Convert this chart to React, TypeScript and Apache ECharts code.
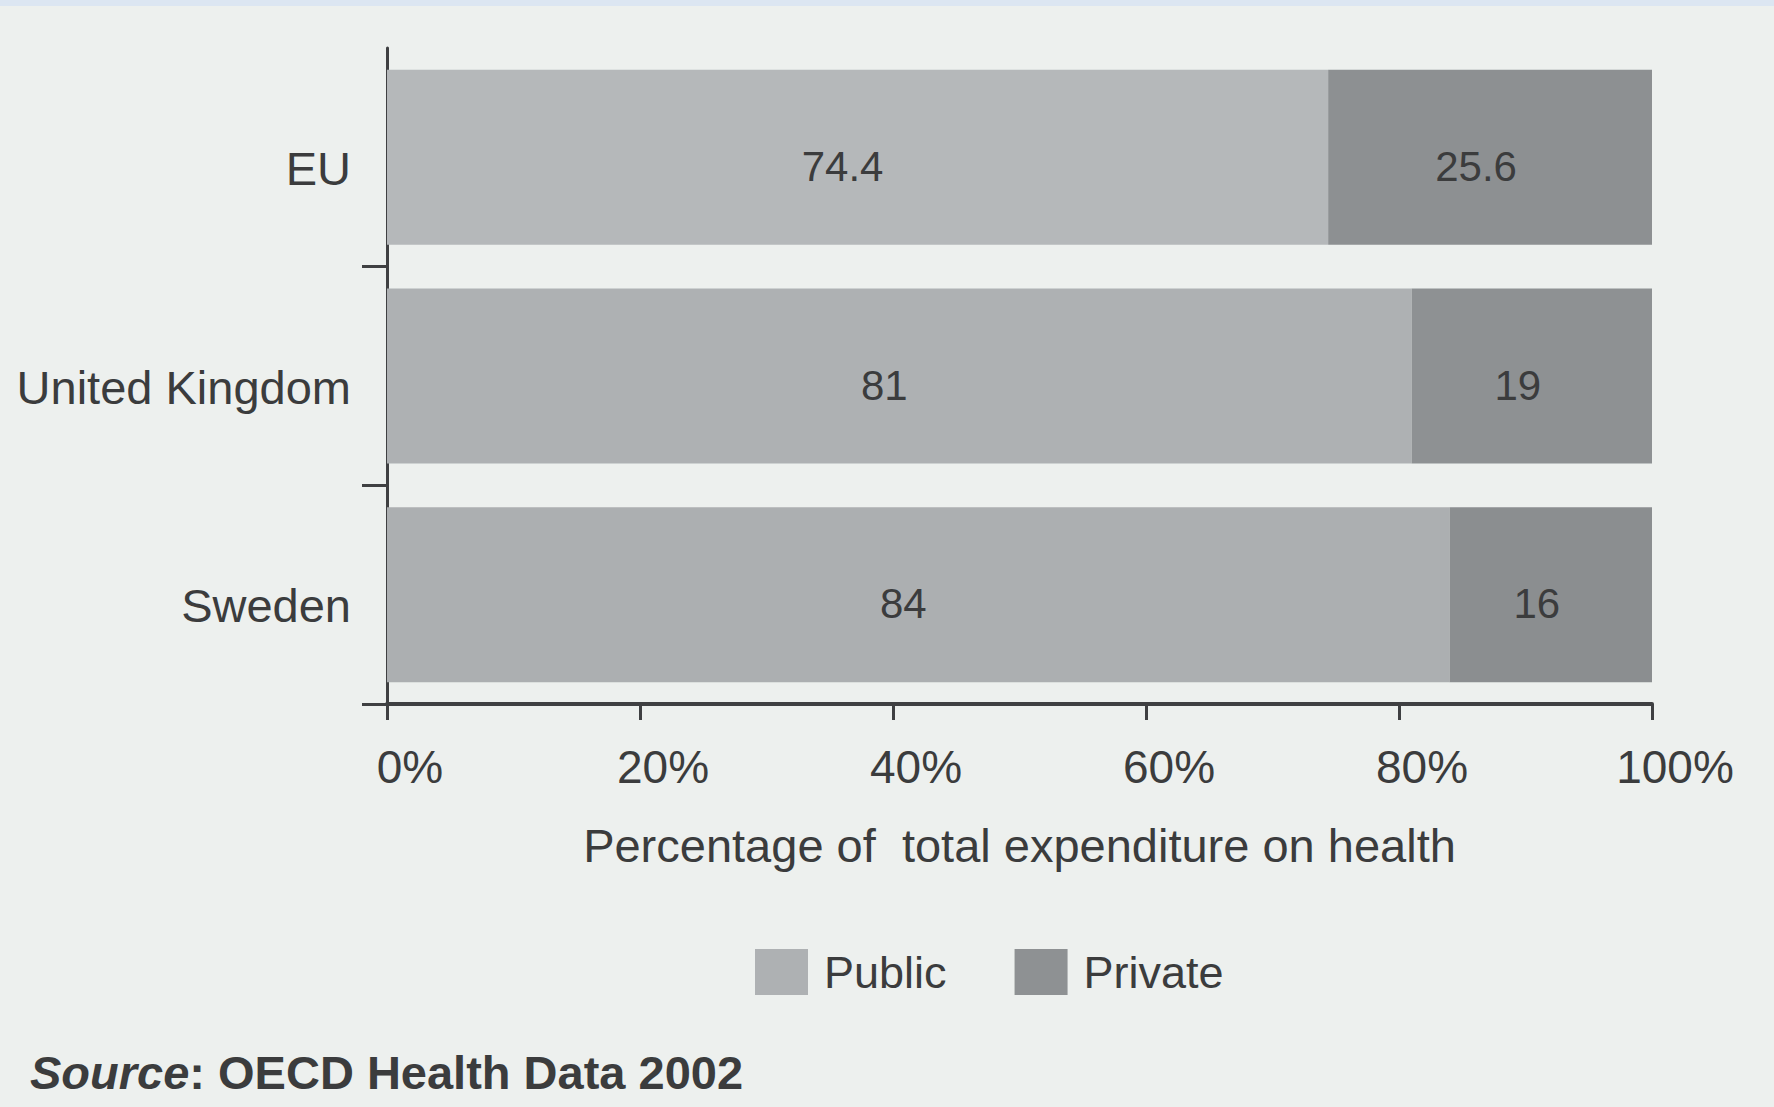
import React, { useEffect, useRef } from "react";
import * as echarts from "echarts";

const categories = ["EU", "United Kingdom", "Sweden"];
const publicValues = [74.4, 81, 84];
const privateValues = [25.6, 19, 16];
const xTickLabels = ["0%", "20%", "40%", "60%", "80%", "100%"];
const publicColors = ["#b5b8ba", "#aeb1b3", "#acafb1"];
const privateColors = ["#8d9092", "#8e9193", "#8b8e90"];

const FONT = "'Liberation Sans', Arial, Helvetica, sans-serif";
const TEXT = "#3b3c3d";
const AXIS = "#3f4042";

export default function App() {
  const ref = useRef<HTMLDivElement>(null);
  useEffect(() => {
    if (!ref.current) return;
    const chart = echarts.init(ref.current, undefined, { renderer: "svg" });
    chart.setOption({
      animation: false,
      backgroundColor: "#edf0ee",
      textStyle: { fontFamily: FONT },
      grid: { left: 387, top: 48, right: 122, bottom: 403, containLabel: false },
      legend: {
        left: 750,
        top: 944,
        itemWidth: 53,
        itemHeight: 46,
        itemGap: 68,
        icon: "rect",
        textStyle: { fontSize: 45, color: TEXT, fontFamily: FONT, padding: [0, 0, 0, 11] },
        data: ["Public", "Private"],
      },
      xAxis: {
        type: "value",
        min: 0,
        max: 100,
        interval: 20,
        splitLine: { show: false },
        axisLine: { show: true, lineStyle: { color: AXIS, width: 4 } },
        axisTick: { show: true, length: 16, lineStyle: { color: AXIS, width: 3 } },
        axisLabel: {
          margin: 40,
          fontSize: 46,
          color: TEXT,
          fontFamily: FONT,
          padding: [0, 0, 0, 46],
          formatter: (v: number) => xTickLabels[Math.round(v / 20)],
        },
        name: "Percentage of  total expenditure on health",
        nameLocation: "middle",
        nameGap: 118,
        nameTextStyle: { fontSize: 47, color: TEXT, fontFamily: FONT },
      },
      yAxis: {
        type: "category",
        data: categories,
        inverse: true,
        axisLine: { show: true, lineStyle: { color: AXIS, width: 3 } },
        axisTick: {
          show: true,
          length: 25,
          interval: (i: number) => i !== 0,
          lineStyle: { color: AXIS, width: 3 },
        },
        axisLabel: {
          margin: 36,
          fontSize: 47,
          color: TEXT,
          fontFamily: FONT,
          verticalAlign: "top",
          lineHeight: 22,
        },
      },
      series: [
        {
          name: "Public",
          type: "bar",
          stack: "total",
          barWidth: "80%",
          itemStyle: { color: publicColors[1] },
          data: publicValues.map((v, i) => ({ value: v, itemStyle: { color: publicColors[i] } })),
          label: {
            show: true,
            position: "inside",
            offset: [-15, 9],
            fontSize: 42,
            color: TEXT,
            fontFamily: FONT,
          },
        },
        {
          name: "Private",
          type: "bar",
          stack: "total",
          barWidth: "80%",
          itemStyle: { color: privateColors[1] },
          data: privateValues.map((v, i) => ({ value: v, itemStyle: { color: privateColors[i] } })),
          label: {
            show: true,
            position: "inside",
            offset: [-14, 9],
            fontSize: 42,
            color: TEXT,
            fontFamily: FONT,
          },
        },
      ],
      graphic: [
        { type: "rect", left: 0, top: 0, shape: { width: 1774, height: 6 }, style: { fill: "#dce6f2" } },
        {
          type: "text",
          left: 30,
          top: 1049,
          style: {
            text: "{i|Source}{b|: OECD Health Data 2002}",
            rich: {
              i: { fontSize: 47, fontWeight: "bold", fontStyle: "italic", fill: TEXT, fontFamily: FONT },
              b: { fontSize: 47, fontWeight: "bold", fill: TEXT, fontFamily: FONT },
            },
          },
        },
      ],
    });
    return () => chart.dispose();
  }, []);
  return (
    <div
      ref={ref}
      style={{ position: "fixed", left: 0, top: 0, width: 1774, height: 1107 }}
    />
  );
}
